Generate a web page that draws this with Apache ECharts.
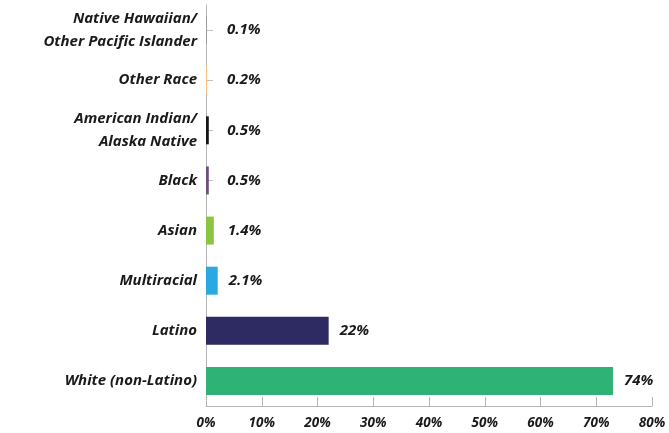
<!DOCTYPE html>
<html>
<head>
<meta charset="utf-8">
<script src="https://cdn.jsdelivr.net/npm/echarts@6/dist/echarts.min.js"></script>
<style>
  html, body { margin: 0; padding: 0; background: #fff; }
  #chart { width: 669px; height: 433px; }
</style>
</head>
<body>
<div id="chart"></div>
<script>
// categories bottom -> top (category axis on y starts from bottom)
var categories = ['White (non-Latino)', 'Latino', 'Multiracial', 'Asian', 'Black',
  'American Indian/\nAlaska Native', 'Other Race', 'Native Hawaiian/\nOther Pacific Islander'];
var values = [73, 22, 2.1, 1.4, 0.5, 0.5, 0.2, 0.1];
var valueLabels = ['74%', '22%', '2.1%', '1.4%', '0.5%', '0.5%', '0.2%', '0.1%'];
var barColors = ['#2fb276', '#2e2b62', '#2aa9e0', '#8cc540', '#6f4d7f', '#151515', '#f7c07c', '#8a8a8a'];
var xTicks = [0, 10, 20, 30, 40, 50, 60, 70, 80];

var fontFam = '"Open Sans", Lato, sans-serif';

window.onload = function () {
  var seriesData = values.map(function (v, i) {
    return {
      value: v,
      itemStyle: { color: barColors[i] },
      label: {
        formatter: valueLabels[i],
        distance: Math.max(11, 21 - v * 5)   // small bars: label sits past the tick
      }
    };
  });

  var option = {
    animation: false,
    grid: { left: 206, right: 17, top: 5, bottom: 27, containLabel: false },
    xAxis: {
      type: 'value',
      min: xTicks[0],
      max: xTicks[xTicks.length - 1],
      interval: 10,
      axisLine: { show: true, lineStyle: { color: '#b5b5b5', width: 1 } },
      axisTick: { show: true, inside: true, length: 9, lineStyle: { color: '#b5b5b5' } },
      splitLine: { show: false },
      axisLabel: {
        formatter: '{value}%',
        color: '#1a1a1a',
        fontFamily: fontFam,
        fontStyle: 'italic',
        fontWeight: 'bold',
        fontSize: 13.5,
        margin: 10
      }
    },
    yAxis: {
      type: 'category',
      data: categories,
      axisLine: { show: true, lineStyle: { color: '#b5b5b5', width: 1 } },
      axisTick: { show: true, inside: true, alignWithLabel: true, length: 7, lineStyle: { color: '#c0c0c0' } },
      axisLabel: {
        color: '#1a1a1a',
        fontFamily: fontFam,
        fontStyle: 'italic',
        fontWeight: 'bold',
        fontSize: 15,
        lineHeight: 23,
        margin: 9,
        align: 'right'
      }
    },
    series: [{
      type: 'bar',
      data: seriesData,
      barWidth: 28,
      z: 3,
      label: {
        show: true,
        position: 'right',
        color: '#1a1a1a',
        fontFamily: fontFam,
        fontStyle: 'italic',
        fontWeight: 'bold',
        fontSize: 15
      }
    }]
  };

  var myChart = echarts.init(document.getElementById('chart'));
  myChart.setOption(option);
};
</script>
</body>
</html>
